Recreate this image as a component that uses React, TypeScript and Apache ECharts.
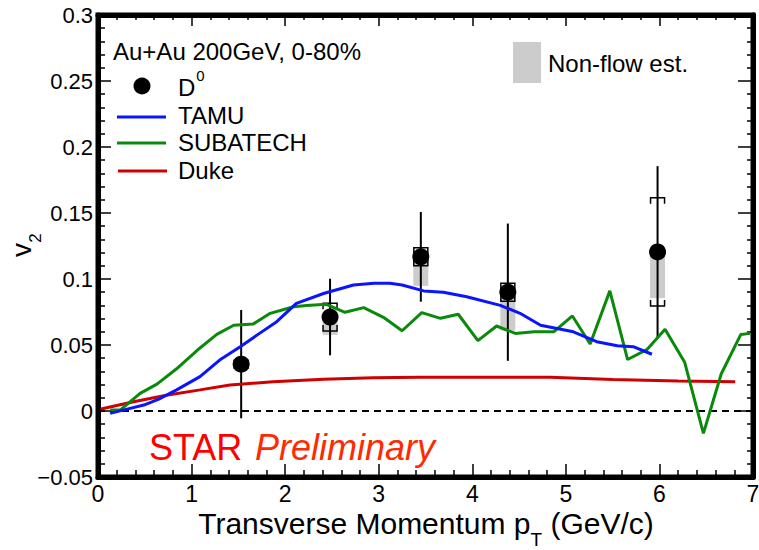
import React, { useEffect, useRef } from "react";
import * as echarts from "echarts";

const FONT = "'Liberation Sans', Arial, Helvetica, sans-serif";

// D0 measurement
const d0Pt = [1.53, 2.48, 3.45, 4.38, 5.98];
const d0V2 = [0.0355, 0.0712, 0.1168, 0.09, 0.1205];
const d0Stat = [0.041, 0.029, 0.034, 0.052, 0.065];
const d0Sys = [0.003, 0.0105, 0.0068, 0.0068, 0.041];
const d0NonFlow = [0.002, 0.0135, 0.022, 0.029, 0.035];

// TAMU model
const tamuPt = [0.13, 0.3, 0.49, 0.65, 0.84, 1.09, 1.3, 1.52, 1.73, 1.91, 2.12, 2.41, 2.73, 2.95, 3.12, 3.25, 3.48, 3.69, 3.94, 4.3, 4.51, 4.73, 5.08, 5.33, 5.55, 5.72, 5.92];
const tamuV2 = [-0.0018, 0.0012, 0.0045, 0.009, 0.016, 0.026, 0.0386, 0.0487, 0.059, 0.0677, 0.0816, 0.089, 0.0955, 0.0967, 0.0967, 0.0955, 0.091, 0.0899, 0.0866, 0.08, 0.074, 0.065, 0.06, 0.0525, 0.0495, 0.0487, 0.043];

// SUBATECH model
const subPt = [0.13, 0.24, 0.45, 0.63, 0.84, 1.06, 1.27, 1.45, 1.66, 1.84, 2.09, 2.23, 2.44, 2.64, 2.84, 3.05, 3.25, 3.46, 3.66, 3.85, 4.06, 4.26, 4.46, 4.66, 4.87, 5.07, 5.26, 5.47, 5.66, 5.87, 6.06, 6.27, 6.47, 6.66, 6.87, 6.97];
const subV2 = [0.0008, 0.0008, 0.0134, 0.0204, 0.032, 0.046, 0.058, 0.065, 0.066, 0.074, 0.079, 0.08, 0.0808, 0.0748, 0.0783, 0.071, 0.0608, 0.0745, 0.0702, 0.0733, 0.0533, 0.0644, 0.0588, 0.06, 0.06, 0.072, 0.0508, 0.091, 0.039, 0.0467, 0.062, 0.0369, -0.017, 0.028, 0.058, 0.0588];

// Duke model
const dukePt = [0.02, 0.38, 0.73, 1.09, 1.41, 1.87, 2.41, 2.94, 3.44, 4.0, 4.83, 5.5, 6.2, 6.81];
const dukeV2 = [0.0013, 0.007, 0.012, 0.016, 0.0197, 0.0222, 0.024, 0.0252, 0.0255, 0.0255, 0.0255, 0.0238, 0.0228, 0.0222];

// axis ranges
const xMin = 0, xMax = 7, xStep = 1;
const yMin = -0.05, yMax = 0.3, yStep = 0.05;

const BLUE = "#0a14ff";
const GREEN = "#0a8a0a";
const RED = "#d00000";

function measure(text: string, font: string): number {
  const c = document.createElement("canvas").getContext("2d");
  if (!c) return text.length * 10;
  c.font = font;
  return c.measureText(text).width;
}

export default function App() {
  const ref = useRef<HTMLDivElement>(null);
  useEffect(() => {
    if (!ref.current) return;
    const chart = echarts.init(ref.current, null, { renderer: "svg" });

    const zip = (a: number[], b: number[]) => a.map((v, i) => [v, b[i]]);

    // x title layout
    const tFont = 30, tSub = 19;
    const t1 = "Transverse Momentum p", t2 = "T", t3 = " (GeV/c)";
    const w1 = measure(t1, `${tFont}px ${FONT}`);
    const w2 = measure(t2, `${tSub}px ${FONT}`);
    const w3 = measure(t3, `${tFont}px ${FONT}`);
    const total = w1 + w2 + w3;
    const tx0 = 426 - total / 2;
    const tY = 523;

    const dW = measure("D", `24px ${FONT}`);

    const gl = 98, gt = 15, gw = 655, gh = 462;

    const axisCommon = {
      type: "value" as const,
      splitLine: { show: false },
      axisLine: { show: true, onZero: false, lineStyle: { color: "#000", width: 5 } },
      axisTick: { show: true, inside: true, length: 13, lineStyle: { color: "#000", width: 1.5 } },
      minorTick: { show: true, splitNumber: 5, length: 7, lineStyle: { color: "#000", width: 1.5 } },
    };

    const txt = (text: string, x: number, y: number, size: number, extra: any = {}) => ({
      type: "text",
      x,
      y,
      silent: true,
      style: {
        text,
        fontSize: size,
        fontFamily: FONT,
        fill: "#000",
        align: "left",
        verticalAlign: "middle",
        ...extra,
      },
    });

    const option: any = {
      animation: false,
      backgroundColor: "#fff",
      grid: { left: gl, top: gt, width: gw, height: gh, outerBoundsMode: "none" },
      xAxis: [
        {
          ...axisCommon,
          position: "bottom",
          min: xMin,
          max: xMax,
          interval: xStep,
          axisLabel: { fontSize: 23, fontFamily: FONT, color: "#000", margin: 5 },
        },
        {
          ...axisCommon,
          position: "top",
          min: xMin,
          max: xMax,
          interval: xStep,
          axisLabel: { show: false },
          axisTick: { ...axisCommon.axisTick, length: 11 },
          minorTick: { ...axisCommon.minorTick, length: 5 },
        },
      ],
      yAxis: [
        {
          ...axisCommon,
          position: "left",
          min: yMin,
          max: yMax,
          interval: yStep,
          axisLabel: {
            fontSize: 22,
            fontFamily: FONT,
            color: "#000",
            margin: 5,
            formatter: (v: number) => String(Number(v.toFixed(2))).replace("-", "\u2212"),
          },
        },
        {
          ...axisCommon,
          position: "right",
          min: yMin,
          max: yMax,
          interval: yStep,
          axisLabel: { show: false },
          axisTick: { ...axisCommon.axisTick, length: 15 },
          minorTick: { ...axisCommon.minorTick, length: 6 },
        },
      ],
      series: [
        {
          name: "Non-flow est.",
          type: "custom",
          xAxisIndex: 0,
          yAxisIndex: 0,
          encode: { x: 0, y: [1, 2] },
          data: d0Pt.map((p, i) => [p, d0V2[i] - d0NonFlow[i], d0V2[i]]),
          renderItem: (params: any, api: any) => {
            const x = api.value(0);
            const lo = api.coord([x, api.value(1)]);
            const hi = api.coord([x, api.value(2)]);
            const w = 15;
            return {
              type: "rect",
              shape: { x: lo[0] - w / 2, y: hi[1], width: w, height: lo[1] - hi[1] },
              style: { fill: "#cccccc" },
            };
          },
        },
        {
          name: "zero",
          type: "line",
          data: [[xMin, 0], [xMax, 0]],
          symbol: "none",
          lineStyle: { color: "#000", width: 2, type: [7, 5] },
          silent: true,
        },
        {
          name: "Duke",
          type: "line",
          data: zip(dukePt, dukeV2),
          symbol: "none",
          lineStyle: { color: RED, width: 3 },
        },
        {
          name: "SUBATECH",
          type: "line",
          data: zip(subPt, subV2),
          symbol: "none",
          lineStyle: { color: GREEN, width: 3 },
        },
        {
          name: "TAMU",
          type: "line",
          data: zip(tamuPt, tamuV2),
          symbol: "none",
          lineStyle: { color: BLUE, width: 3 },
        },
        {
          name: "errors",
          type: "custom",
          encode: { x: 0, y: 1 },
          data: d0Pt.map((p, i) => [p, d0V2[i], d0Stat[i], d0Sys[i]]),
          renderItem: (params: any, api: any) => {
            const x = api.value(0);
            const y = api.value(1);
            const e = api.value(2);
            const s = api.value(3);
            const top = api.coord([x, y + e]);
            const bot = api.coord([x, y - e]);
            const st = api.coord([x, y + s]);
            const sb = api.coord([x, y - s]);
            const hw = 7;
            const cap = Math.min(6, (sb[1] - st[1]) / 2);
            return {
              type: "group",
              children: [
                {
                  type: "line",
                  shape: { x1: top[0], y1: top[1], x2: bot[0], y2: bot[1] },
                  style: { stroke: "#000", lineWidth: 2 },
                },
                {
                  type: "polyline",
                  shape: { points: [[st[0] - hw, st[1] + cap], [st[0] - hw, st[1]], [st[0] + hw, st[1]], [st[0] + hw, st[1] + cap]] },
                  style: { stroke: "#000", lineWidth: 1.5, fill: null },
                },
                {
                  type: "polyline",
                  shape: { points: [[sb[0] - hw, sb[1] - cap], [sb[0] - hw, sb[1]], [sb[0] + hw, sb[1]], [sb[0] + hw, sb[1] - cap]] },
                  style: { stroke: "#000", lineWidth: 1.5, fill: null },
                },
              ],
            };
          },
        },
        {
          name: "D0",
          type: "scatter",
          data: zip(d0Pt, d0V2),
          symbol: "circle",
          symbolSize: 17,
          itemStyle: { color: "#000", opacity: 1 },
        },
      ],
      graphic: [
        {
          type: "rect",
          silent: true,
          z: 50,
          shape: { x: gl, y: gt, width: gw, height: gh },
          style: { fill: null, stroke: "#000", lineWidth: 5 },
        },
        txt("Au+Au 200GeV, 0-80%", 113, 51, 24),
        { type: "circle", shape: { cx: 142, cy: 86, r: 8.5 }, style: { fill: "#000" }, silent: true },
        txt("D", 178, 87, 24),
        txt("0", 178 + dW + 1, 75, 15),
        { type: "line", shape: { x1: 117, y1: 117, x2: 166, y2: 117 }, style: { stroke: BLUE, lineWidth: 3 }, silent: true },
        txt("TAMU", 178, 115, 24),
        { type: "line", shape: { x1: 117, y1: 143, x2: 166, y2: 143 }, style: { stroke: GREEN, lineWidth: 3 }, silent: true },
        txt("SUBATECH", 178, 142, 24),
        { type: "line", shape: { x1: 118, y1: 171, x2: 167, y2: 171 }, style: { stroke: RED, lineWidth: 3 }, silent: true },
        txt("Duke", 178, 170, 24),
        { type: "rect", shape: { x: 513, y: 42, width: 28, height: 41 }, style: { fill: "#cccccc" }, silent: true },
        txt("Non-flow est.", 548, 63, 24),
        txt("STAR", 149, 447, 36, { fill: "#ff0000" }),
        txt("Preliminary", 255, 447, 36, { fill: "#ff2a00", fontStyle: "italic" }),
        txt(t1, tx0, tY, tFont),
        txt(t2, tx0 + w1, tY + 16, tSub),
        txt(t3, tx0 + w1 + w2, tY, tFont),
        {
          type: "text",
          x: 21,
          y: 250,
          rotation: Math.PI / 2,
          silent: true,
          style: { text: "v", fontSize: 28, fontFamily: FONT, fill: "#000", align: "center", verticalAlign: "middle" },
        },
        {
          type: "text",
          x: 35,
          y: 238,
          rotation: Math.PI / 2,
          silent: true,
          style: { text: "2", fontSize: 17, fontFamily: FONT, fill: "#000", align: "center", verticalAlign: "middle" },
        },
      ],
    };

    chart.setOption(option);
    return () => chart.dispose();
  }, []);

  return (
    <div
      ref={ref}
      style={{ position: "fixed", left: 0, top: 0, width: 759, height: 550, background: "#fff" }}
    />
  );
}
